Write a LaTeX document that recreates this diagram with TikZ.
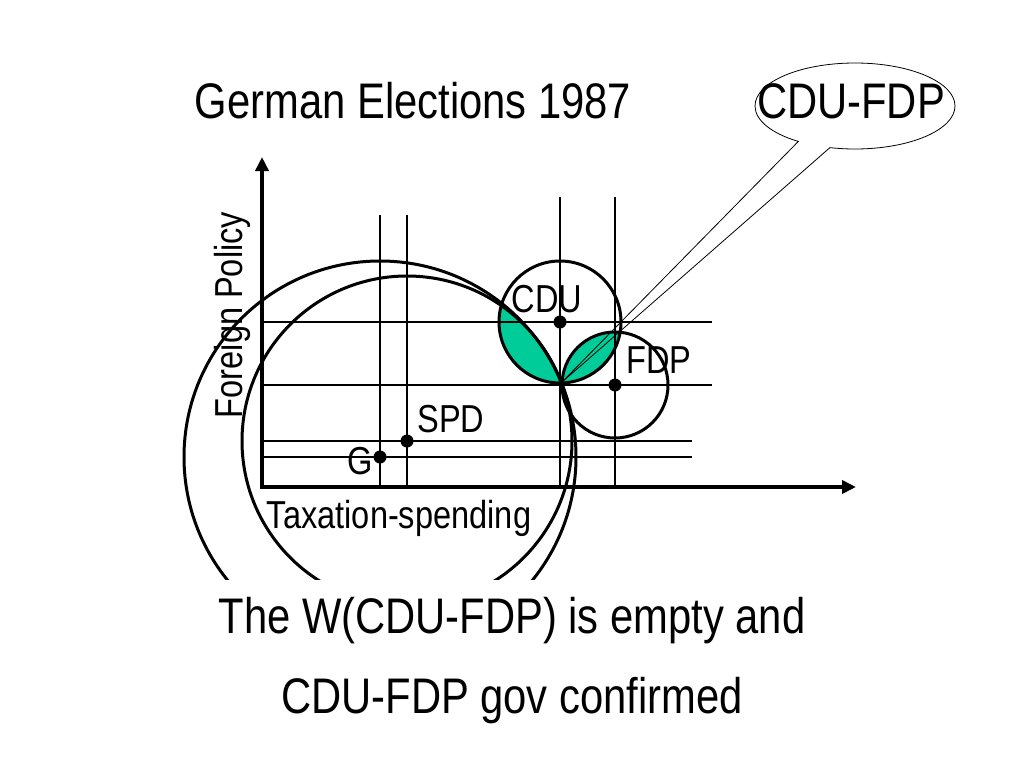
\documentclass[tikz,border=0pt]{standalone}
\usepackage{fontspec}
\setmainfont{Liberation Sans}[FakeStretch=0.835]
\usetikzlibrary{arrows.meta,shapes.callouts}
\definecolor{wingreen}{RGB}{0,204,153}
\newcommand{\bigfont}{\fontsize{50}{60}\selectfont}
\newcommand{\labfont}{\fontsize{39}{46}\selectfont}
\begin{document}
\begin{tikzpicture}[x=1pt, y=-1pt,
  axis/.style={line width=4pt, {Triangle[width=13pt,length=14pt]}-{Triangle[width=13pt,length=14pt]}},
  guide/.style={line width=1.6pt},
  pref/.style={line width=3pt},
  ideal/.style={circle,fill=black,minimum size=13pt,inner sep=0pt},
  lab/.style={font=\labfont,anchor=base,inner sep=0pt},
  head/.style={font=\bigfont,anchor=base,inner sep=0pt},
  bubble/.style={ellipse callout,draw,line width=0.8pt,minimum width=200pt,minimum height=86pt,
    callout absolute pointer={(M)},callout pointer arc=20}]
\useasboundingbox (0,0) rectangle (1024,768);
\coordinate (O) at (262,487);
\coordinate (ytip) at (262,157);
\coordinate (xtip) at (856,487);
\coordinate (M) at (561,383);
\coordinate (top1) at (0,215);
\coordinate (top2) at (0,197);
\coordinate (right1) at (712,0);
\coordinate (right2) at (692,0);
% ideal points
\node[ideal] (G) at (380,457) {};
\node[ideal] (SPD) at (407,441) {};
\node[ideal] (CDU) at (560,322) {};
\node[ideal] (FDP) at (615,385) {};
% win sets
\begin{scope}
\clip (CDU) circle[radius=61pt];
\fill[wingreen] (FDP) circle[radius=53pt];
\end{scope}
\begin{scope}
\clip (CDU) circle[radius=61pt];
\clip (G) circle[radius=196pt];
\fill[wingreen] (SPD) circle[radius=165pt];
\end{scope}
% guide lines
\draw[guide] (G |- top1) -- (G |- O);
\draw[guide] (SPD |- top1) -- (SPD |- O);
\draw[guide] (CDU |- top2) -- (CDU |- O);
\draw[guide] (FDP |- top2) -- (FDP |- O);
\draw[guide] (O |- CDU) -- (right1 |- CDU);
\draw[guide] (O |- FDP) -- (right1 |- FDP);
\draw[guide] (O |- SPD) -- (right2 |- SPD);
\draw[guide] (O |- G) -- (right2 |- G);
% indifference circles
\draw[pref] (CDU) circle[radius=61pt];
\draw[pref] (FDP) circle[radius=53pt];
\begin{scope}
\clip (0,0) rectangle (1024,579);
\draw[pref] (G) circle[radius=196pt];
\draw[pref] (SPD) circle[radius=165pt];
\end{scope}
\draw[axis] (ytip) -- (O) -- (xtip);
\begin{scope}[every node/.style={lab}]
\node (lG) at (360,474) {G};
\node (lSPD) at (451,432) {SPD};
\node (lCDU) at (547,312) {CDU};
\node (lFDP) at (659,373) {FDP};
\node (xlab) at (399,528) {Taxation-spending};
\node[rotate=90] (ylab) at (242,315) {Foreign Policy};
\end{scope}
\node[head] (title) at (413,118) {German Elections 1987};
\node[bubble] (bubble) at (855,106) {};
\node[head] (btext) at (851,118) {CDU-FDP};
\node[head] (concl1) at (512,633) {The W(CDU-FDP) is empty and};
\node[head] (concl2) at (512,713) {CDU-FDP gov confirmed};
\end{tikzpicture}
\end{document}
